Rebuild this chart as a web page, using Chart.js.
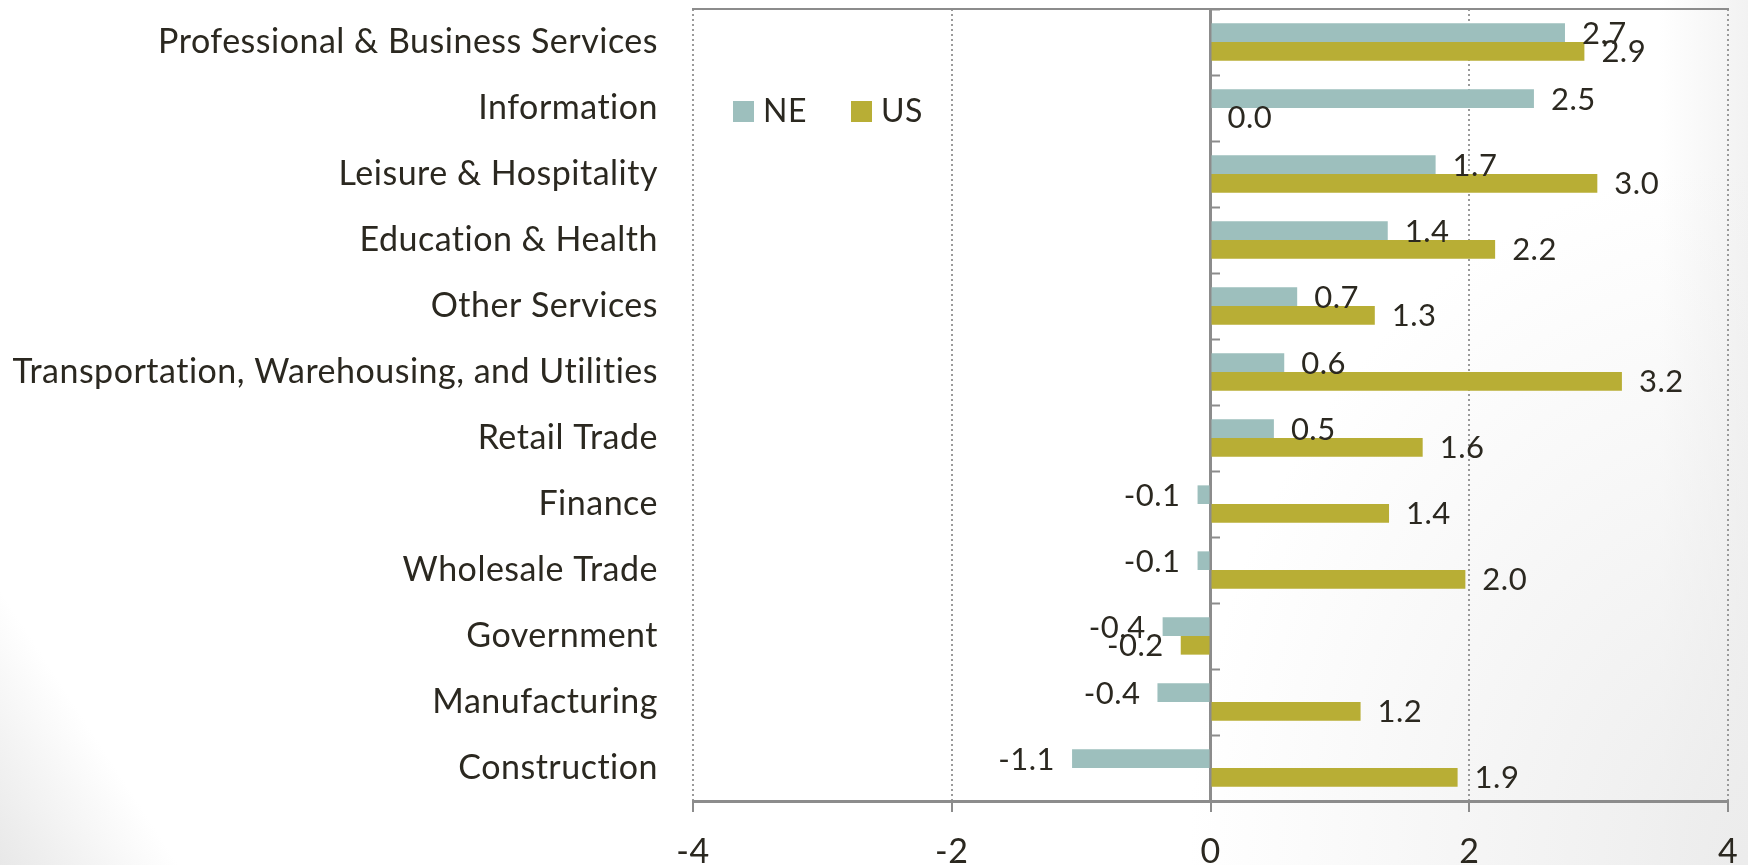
<!DOCTYPE html>
<html>
<head>
<meta charset="utf-8">
<script src="https://cdn.jsdelivr.net/npm/chart.js@4.4.1/dist/chart.umd.min.js"></script>
<style>
  html, body { margin: 0; padding: 0; }
  body {
    width: 1748px; height: 865px; overflow: hidden;
    background:
      linear-gradient(57deg, #e8e8e8 0px, rgba(255,255,255,0) 150px),
      radial-gradient(ellipse 560px 700px at 100% 100%, #ececec 0%, rgba(255,255,255,0) 100%),
      linear-gradient(to left, #f2f2f2 0, rgba(255,255,255,0) 90px),
      #fff;
  }
  #wrap { position: relative; width: 1748px; height: 865px; }
</style>
</head>
<body>
<div id="wrap"><canvas id="chart" width="1748" height="865"></canvas></div>
<script>
  // data (percent change)
  const categories = [
    'Professional & Business Services',
    'Information',
    'Leisure & Hospitality',
    'Education & Health',
    'Other Services',
    'Transportation, Warehousing, and Utilities',
    'Retail Trade',
    'Finance',
    'Wholesale Trade',
    'Government',
    'Manufacturing',
    'Construction'
  ];
  const neValues = [2.74, 2.5, 1.74, 1.37, 0.67, 0.57, 0.49, -0.1, -0.1, -0.37, -0.41, -1.07];
  const usValues = [2.89, 0.0, 2.99, 2.2, 1.27, 3.18, 1.64, 1.38, 1.97, -0.23, 1.16, 1.91];
  const seriesNames = ['NE', 'US'];
  const xMin = -4, xMax = 4, xStep = 2;

  const colors = { NE: '#9dbfbd', US: '#b8ae35' };
  const textColor = '#2b2820';
  const lineGrey = '#8c8c8c';

  // slight tracking, also keeps "ti" apart like the original
  const spacing = {
    id: 'spacing',
    beforeDraw(chart) { chart.ctx.letterSpacing = '0.5px'; }
  };

  // value labels next to bar ends
  const barLabels = {
    id: 'barLabels',
    afterDatasetsDraw(chart) {
      const ctx = chart.ctx;
      ctx.save();
      ctx.font = '31px Lato';
      ctx.fillStyle = textColor;
      ctx.textBaseline = 'middle';
      chart.data.datasets.forEach((ds, i) => {
        chart.getDatasetMeta(i).data.forEach((bar, j) => {
          const v = ds.data[j];
          const neg = v < 0;
          ctx.textAlign = neg ? 'right' : 'left';
          ctx.fillText(v.toFixed(1), bar.x + (neg ? -17 : 17), bar.y + 1);
        });
      });
      ctx.restore();
    }
  };

  // top frame line + legend sitting inside the plot
  const frame = {
    id: 'frame',
    afterDraw(chart) {
      const { ctx, chartArea: a } = chart;
      ctx.save();
      ctx.fillStyle = lineGrey;
      ctx.fillRect(a.left - 1, a.top - 1, a.right - a.left + 2, 2);

      ctx.font = '32px Lato';
      ctx.textBaseline = 'middle';
      ctx.textAlign = 'left';
      let x = a.left + 40;
      const y = 111;
      chart.data.datasets.forEach(ds => {
        ctx.fillStyle = ds.backgroundColor;
        ctx.fillRect(x, y - 10, 21, 21);
        ctx.fillStyle = textColor;
        ctx.fillText(ds.label, x + 30, y + 1);
        x += 118;
      });
      ctx.restore();
    }
  };

  const noPad = s => { s.paddingTop = 0; s.paddingBottom = 0; };

  new Chart(document.getElementById('chart'), {
    type: 'bar',
    data: {
      labels: categories,
      datasets: [
        { label: seriesNames[0], data: neValues, backgroundColor: colors.NE },
        { label: seriesNames[1], data: usValues, backgroundColor: colors.US }
      ]
    },
    options: {
      indexAxis: 'y',
      responsive: false,
      animation: false,
      devicePixelRatio: 1,
      layout: { padding: { top: 9, right: 20, left: 0, bottom: 0 } },
      datasets: { bar: { categoryPercentage: 0.565, barPercentage: 1.0 } },
      plugins: { legend: { display: false }, tooltip: { enabled: false } },
      scales: {
        x: {
          min: xMin, max: xMax,
          afterFit: s => { s.height = 64; s.paddingLeft = 0; s.paddingRight = 0; },
          ticks: {
            stepSize: xStep,
            color: textColor,
            font: { family: 'Lato', size: 34 },
            padding: 20
          },
          grid: {
            color: '#9a9a9a',
            lineWidth: 2,
            drawTicks: true,
            tickLength: 11,
            tickColor: lineGrey,
            tickWidth: 2,
            tickBorderDash: []
          },
          border: { display: true, color: lineGrey, width: 3, dash: [2, 3] }
        },
        y: {
          afterFit: s => { s.width = 693; noPad(s); },
          ticks: {
            color: textColor,
            font: { family: 'Lato', size: 34 },
            padding: 35
          },
          grid: { display: false, drawTicks: false },
          border: { display: false }
        },
        y0: {
          type: 'category',
          axis: 'y',
          labels: categories,
          position: { x: 0 },
          offset: true,
          afterFit: noPad,
          ticks: { display: false },
          grid: {
            offset: true,
            drawOnChartArea: false,
            drawTicks: true,
            tickLength: -11,
            tickColor: lineGrey,
            tickWidth: 2
          },
          border: { display: true, color: lineGrey, width: 3 }
        }
      }
    },
    plugins: [spacing, barLabels, frame]
  });
</script>
</body>
</html>
